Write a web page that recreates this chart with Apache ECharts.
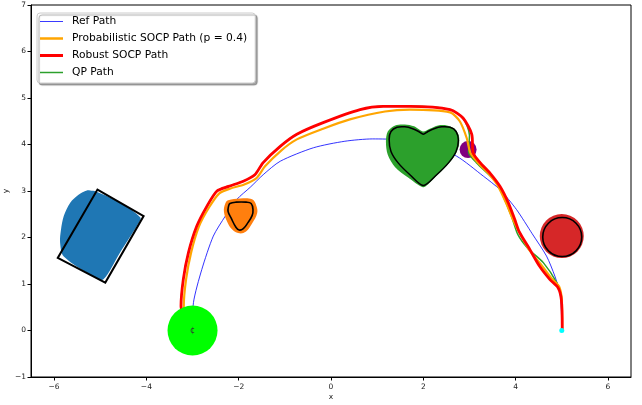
<!DOCTYPE html>
<html>
<head>
<meta charset="utf-8">
<script src="https://cdn.jsdelivr.net/npm/echarts@6/dist/echarts.min.js"></script>
<style>
  html, body { margin: 0; padding: 0; background: #fff; }
  #chart { width: 642px; height: 405px; }
</style>
</head>
<body>
<div id="chart"></div>
<script>
// paths, [x, y]
const refPath = [[-3.0, 0.0], [-2.98, 0.60], [-2.80, 1.31], [-2.55, 2.03], [-2.29, 2.46], [-2.04, 2.82],
  [-1.75, 3.08], [-1.47, 3.35], [-1.10, 3.64], [-0.38, 3.93], [0.30, 4.07], [0.90, 4.12], [1.50, 4.10],
  [2.10, 3.98], [2.72, 3.75], [3.30, 3.32], [3.66, 3.03], [4.02, 2.60], [4.36, 2.08], [4.67, 1.60],
  [4.85, 1.17], [4.96, 0.81], [4.99, 0.45], [5.0, 0.0]];

const robustPath = [[-3.0, 0.0], [-3.25, 0.52], [-3.20, 1.10], [-3.09, 1.67], [-2.91, 2.24], [-2.69, 2.67],
  [-2.47, 3.00], [-2.22, 3.10], [-1.90, 3.21], [-1.65, 3.35], [-1.47, 3.61], [-1.10, 3.96], [-0.74, 4.22],
  [-0.17, 4.47], [0.63, 4.75], [1.13, 4.82], [1.71, 4.82], [2.58, 4.75], [2.86, 4.57], [3.05, 4.22],
  [3.08, 3.82], [3.23, 3.61], [3.44, 3.39], [3.66, 3.10], [3.84, 2.75], [3.98, 2.39], [4.08, 2.12],
  [4.31, 1.74], [4.52, 1.38], [4.74, 1.10], [4.92, 0.92], [4.99, 0.67], [5.01, 0.06], [5.0, 0.0]];

const probPath = [[-3.0, 0.0], [-3.19, 0.52], [-3.14, 1.10], [-3.03, 1.68], [-2.86, 2.24], [-2.64, 2.65],
  [-2.42, 2.95], [-2.19, 3.05], [-1.88, 3.14], [-1.62, 3.27], [-1.43, 3.53], [-1.08, 3.87], [-0.74, 4.11],
  [-0.17, 4.34], [0.41, 4.54], [1.17, 4.71], [1.71, 4.75], [2.58, 4.69], [2.79, 4.50], [2.94, 4.14],
  [3.02, 3.82], [3.18, 3.61], [3.40, 3.39], [3.61, 3.12], [3.79, 2.75], [3.94, 2.39], [4.08, 2.11],
  [4.29, 1.74], [4.55, 1.42], [4.78, 1.12], [4.94, 0.95], [5.0, 0.67], [5.01, 0.06], [5.0, 0.0]];

const qpPath = [[-3.0, 0.0], [-3.25, 0.52], [-3.20, 1.10], [-3.09, 1.67], [-2.91, 2.24], [-2.69, 2.67],
  [-2.47, 3.00], [-2.22, 3.10], [-1.90, 3.21], [-1.65, 3.35], [-1.47, 3.61], [-1.10, 3.96], [-0.74, 4.22],
  [-0.17, 4.47], [0.63, 4.75], [1.13, 4.82], [1.71, 4.82], [2.58, 4.75], [2.86, 4.57], [3.0, 4.2],
  [2.98, 3.84], [3.15, 3.61], [3.59, 3.18], [3.73, 2.89], [3.91, 2.46], [4.05, 2.06], [4.27, 1.76],
  [4.60, 1.46], [4.89, 1.03], [4.99, 0.74], [5.01, 0.06], [5.0, 0.0]];

// obstacles
const blueBlob = [[-5.22, 3.01], [-5.09, 2.99], [-4.57, 2.75], [-4.13, 2.43], [-4.20, 2.26], [-4.57, 1.68],
  [-4.93, 1.10], [-5.11, 1.14], [-5.79, 1.59], [-5.87, 1.89], [-5.85, 2.17], [-5.79, 2.46], [-5.65, 2.75],
  [-5.47, 2.92], [-5.29, 3.01]];
const blueRect = [[-5.06, 3.03], [-4.06, 2.46], [-4.89, 1.03], [-5.92, 1.56]];

const orangeBlob = [[-2.23, 2.80], [-1.97, 2.84], [-1.71, 2.82], [-1.62, 2.69], [-1.60, 2.52], [-1.71, 2.30],
  [-1.84, 2.13], [-1.99, 2.09], [-2.14, 2.17], [-2.25, 2.34], [-2.32, 2.56], [-2.29, 2.73]];
const orangeOutline = [[-2.19, 2.73], [-2.06, 2.76], [-1.84, 2.76], [-1.73, 2.73], [-1.69, 2.60], [-1.71, 2.47],
  [-1.80, 2.32], [-1.90, 2.19], [-1.99, 2.16], [-2.06, 2.22], [-2.16, 2.41], [-2.23, 2.56], [-2.22, 2.67]];

const heartFill = [[1.99, 3.08], [1.67, 3.29], [1.39, 3.51], [1.23, 3.78], [1.19, 4.06], [1.23, 4.28],
  [1.39, 4.41], [1.60, 4.43], [1.80, 4.39], [1.99, 4.28], [2.14, 4.34], [2.32, 4.41], [2.51, 4.41],
  [2.68, 4.34], [2.77, 4.19], [2.77, 3.98], [2.68, 3.76], [2.51, 3.55], [2.27, 3.31], [2.10, 3.14]];
const heartOutline = [[2.00, 3.12], [1.71, 3.35], [1.45, 3.61], [1.30, 3.85], [1.26, 4.11], [1.30, 4.28],
  [1.43, 4.37], [1.60, 4.38], [1.77, 4.34], [1.90, 4.28], [2.00, 4.22], [2.10, 4.28], [2.23, 4.34],
  [2.40, 4.38], [2.58, 4.37], [2.71, 4.28], [2.76, 4.09], [2.71, 3.85], [2.55, 3.61], [2.29, 3.35]];

const purpleObs = [[2.97, 3.89]];
const redObs = [[5.0, 2.03]];
const redOutline = [[5.01, 2.01]];
const startPos = [[-3.0, 0.0]];
const goalPos = [[5.0, 0.0]];

const xTicks = [-6, -4, -2, 0, 2, 4, 6];

function polySeries(pts, style, z, smooth) {
  return {
    type: 'custom',
    coordinateSystem: 'cartesian2d',
    silent: true,
    z: z,
    data: pts,
    renderItem: function (params, api) {
      if (params.dataIndex !== 0) return null;
      return {
        type: 'polygon',
        shape: { points: pts.map(p => api.coord(p)), smooth: smooth },
        style: style
      };
    }
  };
}

function pathSeries(name, pts, color, width, z) {
  return {
    name: name,
    type: 'line',
    data: pts,
    symbol: 'none',
    smooth: 0.25,
    z: z,
    lineStyle: { color: color, width: width },
    itemStyle: { color: color }
  };
}

// legend swatch: a flat bar, thickness set by the path's aspect
const swatch = (name, t, color) => ({
  name: name,
  icon: 'path://M0,0h92v' + t + 'h-92z',
  itemStyle: { color: color, borderWidth: 0 }
});

const minus = v => String(v).replace('-', '\u2212');

const chart = echarts.init(document.getElementById('chart'));
chart.setOption({
  animation: false,
  backgroundColor: '#fff',
  textStyle: { fontFamily: 'DejaVu Sans' },
  grid: {
    left: 31, right: 11, top: 5, bottom: 28,
    show: true, borderColor: '#000', borderWidth: 1,
    outerBoundsMode: 'none'
  },
  legend: {
    orient: 'vertical',
    left: 37, top: 13,
    padding: [3, 8, 5, 3],
    itemWidth: 23, itemHeight: 10, itemGap: 6,
    backgroundColor: '#fff',
    borderColor: '#cccccc', borderWidth: 1, borderRadius: 3,
    shadowColor: 'rgba(0,0,0,0.35)', shadowBlur: 1, shadowOffsetX: 2, shadowOffsetY: 2,
    itemStyle: { borderWidth: 0 },
    textStyle: { fontSize: 10.7, color: '#000', padding: [0, 0, 0, 4] },
    data: [
      swatch('Ref Path', 4, '#3a3aff'),
      swatch('Probabilistic SOCP Path (p = 0.4)', 10, '#ffa500'),
      swatch('Robust SOCP Path', 12, '#ff0000'),
      swatch('QP Path', 6, '#2ca02c')
    ]
  },
  xAxis: {
    type: 'value', min: -6.5, max: 6.5,
    name: 'x', nameLocation: 'middle', nameGap: 16, nameMoveOverlap: false,
    nameTextStyle: { fontSize: 7.5, color: '#222' },
    axisLine: { onZero: false, lineStyle: { color: '#000', width: 1 } },
    axisTick: { customValues: xTicks, length: 3.5, lineStyle: { color: '#000' } },
    axisLabel: { customValues: xTicks, fontSize: 7.5, color: '#222', margin: 6, formatter: minus },
    splitLine: { show: false }
  },
  yAxis: {
    type: 'value', min: -1, max: 7, interval: 1,
    name: 'y', nameLocation: 'middle', nameGap: 21, nameRotate: 90, nameMoveOverlap: false,
    nameTextStyle: { fontSize: 7.5, color: '#222' },
    axisLine: { onZero: false, lineStyle: { color: '#000', width: 1 } },
    axisTick: { length: 3.5, lineStyle: { color: '#000' } },
    axisLabel: { fontSize: 7.5, color: '#222', margin: 5, formatter: minus },
    splitLine: { show: false }
  },
  series: [
    pathSeries('Ref Path', refPath, '#0000ff', 0.8, 2),
    polySeries(blueBlob, { fill: '#1f77b4' }, 3, 0.3),
    polySeries(blueRect, { fill: 'none', stroke: '#000', lineWidth: 2 }, 3.1, 0),
    polySeries(orangeBlob, { fill: '#ff7f0e' }, 3, 0.4),
    polySeries(orangeOutline, { fill: 'none', stroke: '#000', lineWidth: 1.6 }, 3.1, 0.4),
    polySeries(heartFill, { fill: '#2ca02c' }, 3, 0.3),
    polySeries(heartOutline, { fill: 'none', stroke: '#000', lineWidth: 1.5 }, 3.1, 0.3),
    {
      type: 'scatter', data: purpleObs, symbolSize: 17, z: 3, silent: true,
      itemStyle: { color: '#800080', opacity: 1 }
    },
    {
      type: 'scatter', data: redObs, symbolSize: 44, z: 3, silent: true,
      itemStyle: { color: '#d62728', opacity: 1 }
    },
    {
      type: 'scatter', data: redOutline, symbolSize: 39, z: 3.1, silent: true,
      itemStyle: { color: 'transparent', borderColor: '#000', borderWidth: 1.6, opacity: 1 }
    },
    pathSeries('QP Path', qpPath, '#2ca02c', 1.5, 4),
    pathSeries('Probabilistic SOCP Path (p = 0.4)', probPath, '#ffa500', 2.2, 5),
    pathSeries('Robust SOCP Path', robustPath, '#ff0000', 2.8, 6),
    {
      type: 'scatter', data: startPos, symbolSize: 50, z: 7, silent: true,
      itemStyle: { color: '#00ff00', opacity: 1 },
      label: { show: true, position: 'inside', formatter: '\u00a2', fontSize: 8, color: '#333' }
    },
    {
      type: 'scatter', data: goalPos, symbolSize: 5, z: 7, silent: true,
      itemStyle: { color: '#00ffff', opacity: 1 }
    }
  ]
});
</script>
</body>
</html>
